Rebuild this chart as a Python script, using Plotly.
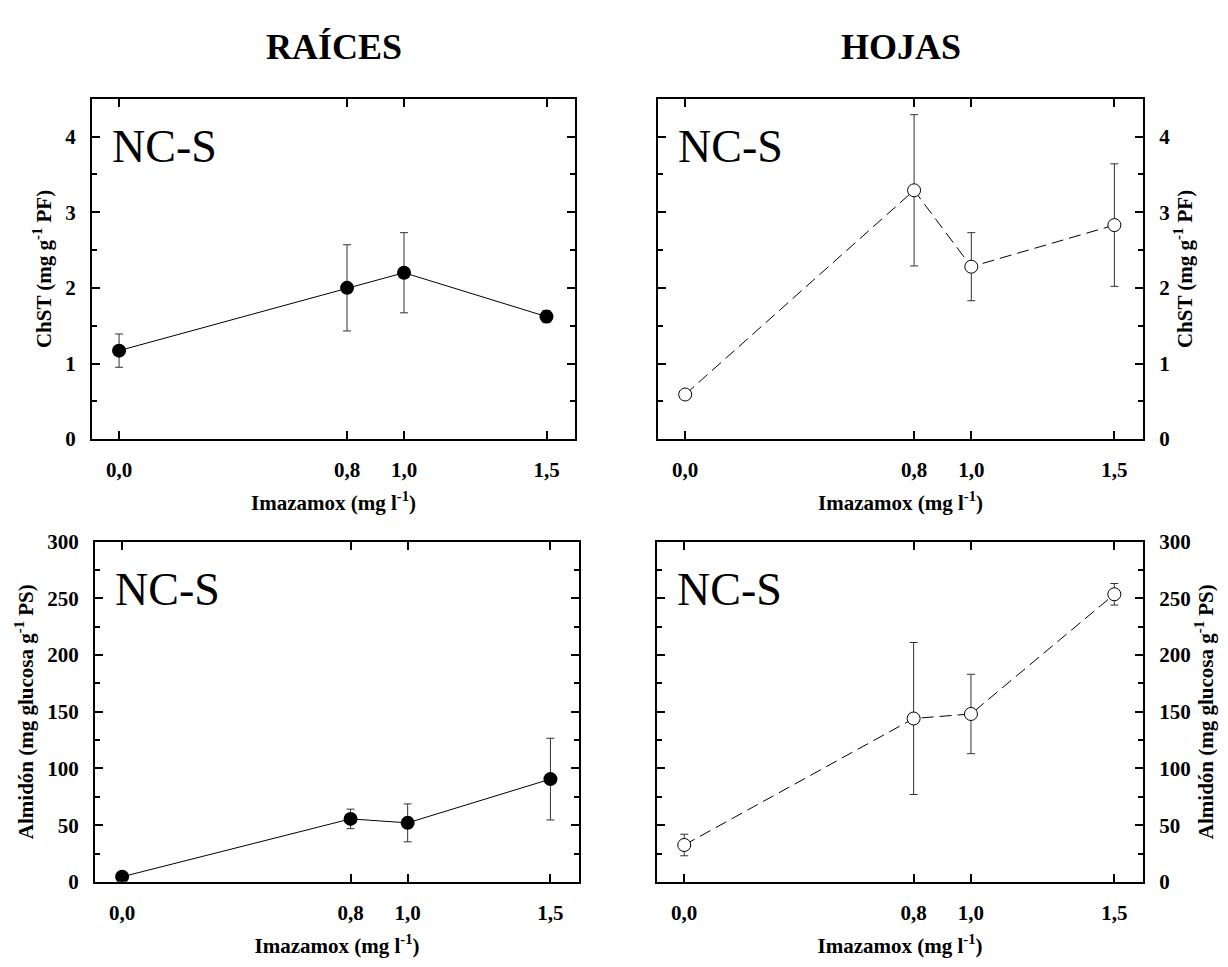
import plotly.graph_objects as go

# ---------------- data ----------------
dose = [0.0, 0.8, 1.0, 1.5]
dose_labels = ["0,0", "0,8", "1,0", "1,5"]

chst_raices = [1.17, 2.00, 2.20, 1.62]
chst_raices_err = [0.22, 0.57, 0.53, 0.08]

chst_hojas = [0.59, 3.29, 2.28, 2.83]
chst_hojas_err = [0.03, 1.00, 0.45, 0.81]

almidon_raices = [4.5, 55.5, 52.0, 90.6]
almidon_raices_err = [1.5, 8.6, 16.7, 36.0]

almidon_hojas = [32.5, 144.0, 148.0, 253.5]
almidon_hojas_err = [9.5, 67.0, 35.0, 9.5]

col_titles = ["RAÍCES", "HOJAS"]
panel_label = "NC-S"
x_title = "Imazamox (mg l<sup>-1</sup>)"
y_title_chst = "ChST (mg g<sup>-1</sup> PF)"
y_title_alm = "Almidón (mg glucosa g<sup>-1</sup> PS)"

# ---------------- layout geometry ----------------
W, H = 1228, 967
FONT = "Liberation Serif"


def px_x(a, b):
    return [a / W, b / W]


def px_y(top, bottom):
    return [1 - bottom / H, 1 - top / H]


fig = go.Figure()

err_style = dict(type="data", visible=True, color="#333", thickness=1, width=4)

fig.add_trace(go.Scatter(
    x=dose, y=chst_raices, mode="lines+markers",
    line=dict(color="black", width=1),
    marker=dict(symbol="circle", size=14, color="black"),
    error_y=dict(array=chst_raices_err, **err_style),
    xaxis="x", yaxis="y", showlegend=False))

fig.add_trace(go.Scatter(
    x=dose, y=chst_hojas, mode="lines+markers",
    line=dict(color="black", width=1, dash="12px,6px"),
    marker=dict(symbol="circle", size=13, color="white",
                line=dict(color="black", width=1)),
    error_y=dict(array=chst_hojas_err, **err_style),
    xaxis="x2", yaxis="y2", showlegend=False))

fig.add_trace(go.Scatter(
    x=dose, y=almidon_raices, mode="lines+markers",
    line=dict(color="black", width=1),
    marker=dict(symbol="circle", size=14, color="black"),
    error_y=dict(array=almidon_raices_err, **err_style),
    xaxis="x3", yaxis="y3", showlegend=False))

fig.add_trace(go.Scatter(
    x=dose, y=almidon_hojas, mode="lines+markers",
    line=dict(color="black", width=1, dash="12px,6px"),
    marker=dict(symbol="circle", size=13, color="white",
                line=dict(color="black", width=1)),
    error_y=dict(array=almidon_hojas_err, **err_style),
    xaxis="x4", yaxis="y4", showlegend=False))

tickfont = dict(family=FONT, size=21, color="black", weight="bold")
titlefont = dict(family=FONT, size=21, color="black", weight="bold")

common = dict(showline=True, linewidth=2, linecolor="black", mirror="allticks",
              ticks="inside", ticklen=8, tickwidth=2, tickcolor="black",
              showgrid=False, zeroline=False, tickfont=tickfont)


def xax(domain, anchor):
    return dict(common, domain=domain, anchor=anchor, range=[-0.095, 1.6],
                tickmode="array", tickvals=dose, ticktext=dose_labels,
                ticklabelstandoff=11,
                title=dict(text=x_title, font=titlefont, standoff=14))


def yax(domain, anchor, rng, dtick, mdtick, title, side):
    return dict(common, domain=domain, anchor=anchor, range=rng, side=side,
                tickmode="linear", tick0=0, dtick=dtick,
                ticklabelstandoff=10,
                minor=dict(ticks="inside", ticklen=5, tickwidth=2,
                           tickcolor="black", dtick=mdtick, tick0=0),
                title=dict(text=title, font=titlefont, standoff=8))


fig.update_layout(
    width=W, height=H,
    margin=dict(l=0, r=0, t=0, b=0),
    paper_bgcolor="white", plot_bgcolor="white",
    font=dict(family=FONT, color="black"),
    xaxis=xax(px_x(92, 575), "y"),
    yaxis=yax(px_y(89, 438), "x", [0, 4.5], 1, 0.5, y_title_chst, "left"),
    xaxis2=xax(px_x(658, 1143), "y2"),
    yaxis2=yax(px_y(89, 438), "x2", [0, 4.5], 1, 0.5, y_title_chst, "right"),
    xaxis3=xax(px_x(95, 579), "y3"),
    yaxis3=yax(px_y(543, 892), "x3", [0, 300], 50, 25, y_title_alm, "left"),
    xaxis4=xax(px_x(657, 1143), "y4"),
    yaxis4=yax(px_y(543, 892), "x4", [0, 300], 50, 25, y_title_alm, "right"),
)

annots = []
# column titles
for txt, cx in zip(col_titles, [(92 + 575) / 2, (658 + 1143) / 2]):
    annots.append(dict(text=txt, x=cx / W, y=1 - 36 / H, xref="paper", yref="paper",
                       xanchor="center", yanchor="middle", showarrow=False,
                       font=dict(family=FONT, size=36, color="black", weight="bold")))
# panel labels
for xr, yr in [("x domain", "y domain"), ("x2 domain", "y2 domain"),
               ("x3 domain", "y3 domain"), ("x4 domain", "y4 domain")]:
    annots.append(dict(text=panel_label, x=0.037, y=0.86, xref=xr, yref=yr,
                       xanchor="left", yanchor="middle", showarrow=False,
                       font=dict(family=FONT, size=46, color="black")))
fig.update_layout(annotations=annots)

fig.write_html("out.html")
